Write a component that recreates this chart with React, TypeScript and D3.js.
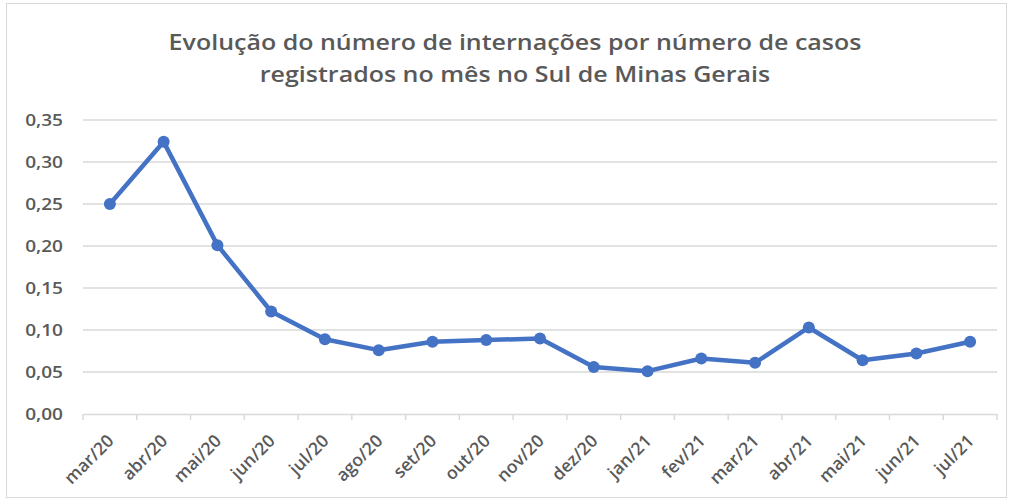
import { useEffect, useRef } from "react";
import * as d3 from "d3";

const months = [
  "mar/20", "abr/20", "mai/20", "jun/20", "jul/20", "ago/20", "set/20", "out/20", "nov/20",
  "dez/20", "jan/21", "fev/21", "mar/21", "abr/21", "mai/21", "jun/21", "jul/21",
];
const ratio = [
  0.25, 0.324, 0.201, 0.122, 0.089, 0.076, 0.086, 0.088, 0.09,
  0.056, 0.051, 0.066, 0.061, 0.103, 0.064, 0.072, 0.086,
];
const yTicks = [0, 0.05, 0.1, 0.15, 0.2, 0.25, 0.3, 0.35];
const titleLines = [
  "Evolução do número de internações por número de casos",
  "registrados no mês no Sul de Minas Gerais",
];

const W = 1011;
const H = 502;
const margin = { top: 120, right: 14, bottom: 88, left: 83 };
const font = "'Open Sans', 'DejaVu Sans', sans-serif";
const sx = 1.23; // the source picture is a bit wider than tall

export default function App() {
  const ref = useRef<SVGSVGElement>(null);

  useEffect(() => {
    const svg = d3.select(ref.current);
    svg.selectAll("*").remove();

    svg
      .append("rect")
      .attr("x", 6.5)
      .attr("y", 3.5)
      .attr("width", 1000)
      .attr("height", 494)
      .attr("fill", "#fff")
      .attr("stroke", "#d9d9d9");

    svg
      .append("g")
      .selectAll("text")
      .data(titleLines)
      .join("text")
      .attr("transform", (_, i) => `translate(515,${50 + i * 32}) scale(1.19,1)`)
      .attr("text-anchor", "middle")
      .attr("font-family", font)
      .attr("font-weight", 600)
      .attr("font-size", 21)
      .attr("fill", "#595959")
      .text((d) => d);

    const x = d3
      .scaleBand()
      .domain(months)
      .range([margin.left, W - margin.right]);

    const y = d3
      .scaleLinear()
      .domain([0, 0.35])
      .range([H - margin.bottom, margin.top]);

    // gridlines
    svg
      .append("g")
      .selectAll("line")
      .data(yTicks.slice(1))
      .join("line")
      .attr("x1", margin.left)
      .attr("x2", W - margin.right)
      .attr("y1", (d) => y(d))
      .attr("y2", (d) => y(d))
      .attr("stroke", "#d9d9d9")
      .attr("stroke-width", 1.5);

    // y labels
    const fmt = (v: number) => v.toFixed(2).replace(".", ",");
    svg
      .append("g")
      .selectAll("text")
      .data(yTicks)
      .join("text")
      .attr("transform", (d) => `translate(63,${y(d)}) scale(${sx},1)`)
      .attr("dy", "0.36em")
      .attr("text-anchor", "end")
      .attr("font-family", font)
      .attr("font-weight", 600)
      .attr("font-size", 15.5)
      .attr("fill", "#595959")
      .text(fmt);

    // x axis
    const xAxis = svg
      .append("g")
      .attr("transform", `translate(0,${y(0)})`)
      .call(
        d3
          .axisBottom(x)
          .tickSize(0)
          .tickFormat(() => "")
      );
    xAxis.select(".domain").attr("stroke", "#d9d9d9").attr("stroke-width", 1.5);

    const bounds = [...months.map((m) => x(m)!), W - margin.right];
    xAxis
      .selectAll(".bnd")
      .data(bounds)
      .join("line")
      .attr("class", "bnd")
      .attr("x1", (d) => d)
      .attr("x2", (d) => d)
      .attr("y1", 0)
      .attr("y2", 6)
      .attr("stroke", "#d9d9d9")
      .attr("stroke-width", 1.5);

    svg
      .append("g")
      .selectAll("text")
      .data(months)
      .join("text")
      .attr("text-anchor", "end")
      .attr("font-family", font)
      .attr("font-weight", 600)
      .attr("font-size", 17.5)
      .attr("fill", "#595959")
      .attr("transform", (d) => `translate(${x(d)! + x.bandwidth() / 2 + 5},${y(0) + 28}) rotate(-45)`)
      .text((d) => d);

    const cx = (i: number) => x(months[i])! + x.bandwidth() / 2;

    svg
      .append("path")
      .datum(ratio)
      .attr("fill", "none")
      .attr("stroke", "#4472c4")
      .attr("stroke-width", 4.5)
      .attr("stroke-linejoin", "round")
      .attr(
        "d",
        d3
          .line<number>()
          .x((_, i) => cx(i))
          .y((d) => y(d))
      );

    svg
      .append("g")
      .selectAll("circle")
      .data(ratio)
      .join("circle")
      .attr("cx", (_, i) => cx(i))
      .attr("cy", (d) => y(d))
      .attr("r", 6)
      .attr("fill", "#4472c4");
  }, []);

  return <svg ref={ref} width={W} height={H} style={{ display: "block", position: "absolute", left: 0, top: 0 }} />;
}
